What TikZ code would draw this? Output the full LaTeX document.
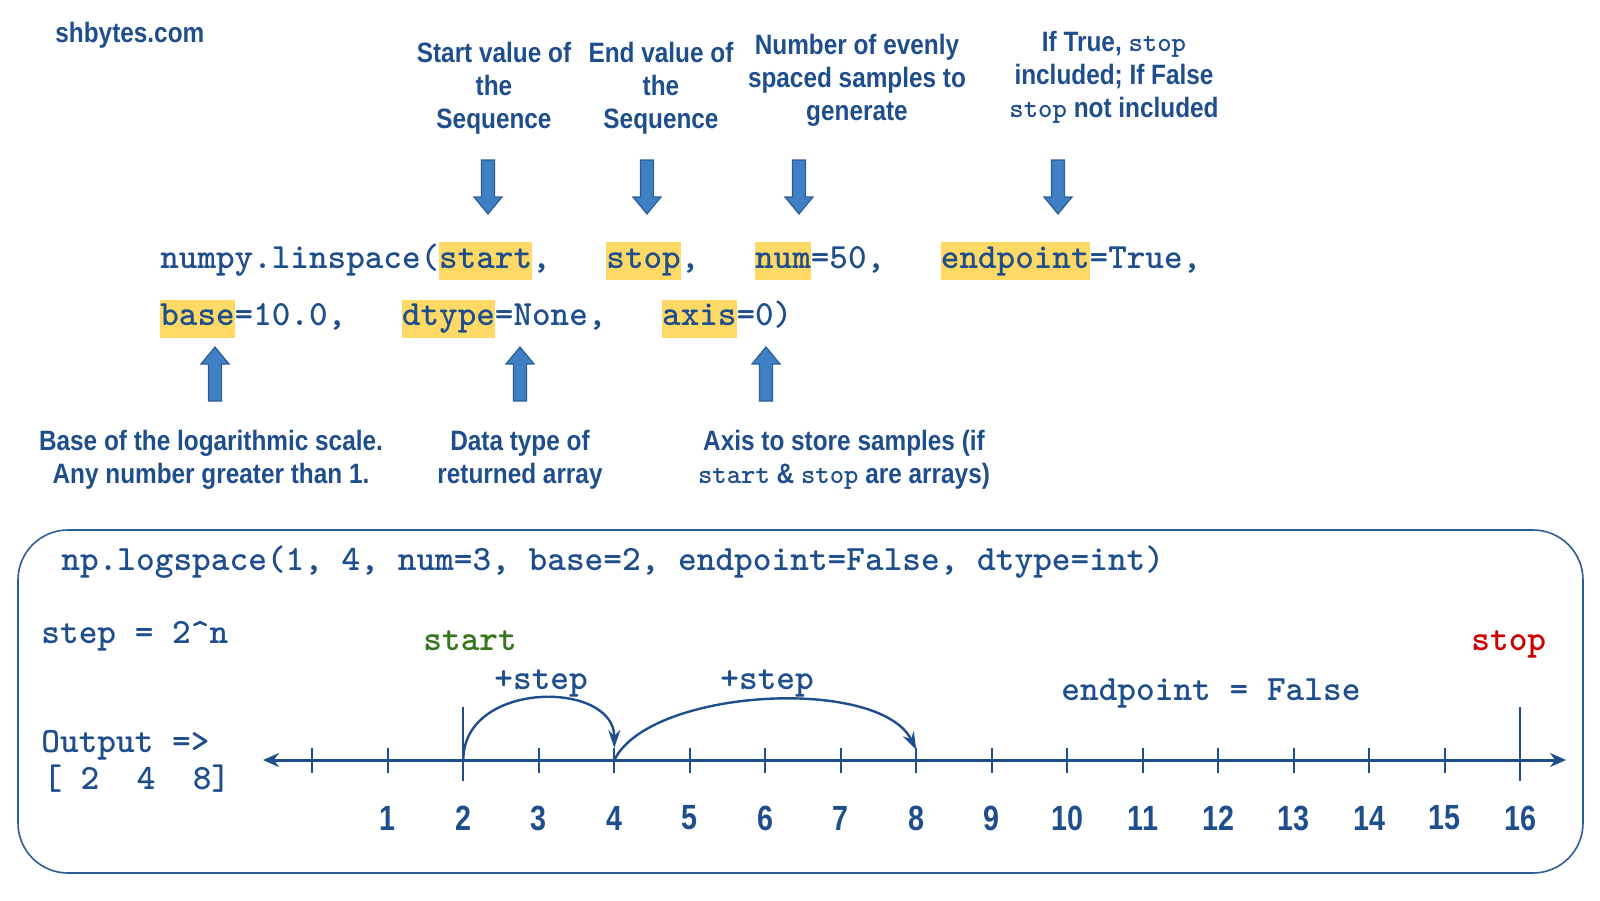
\documentclass[tikz,border=0pt]{standalone}
\usepackage{fontspec}
\setmainfont{Liberation Sans}[FakeStretch=0.87]
\newfontfamily\numfont{Liberation Sans}[FakeStretch=0.82]
\usetikzlibrary{arrows.meta}
\definecolor{txt}{HTML}{1F4E8C}
\definecolor{arrowfill}{HTML}{3F7FC3}
\definecolor{arrowdraw}{HTML}{2C5E96}
\definecolor{hl}{HTML}{FFD966}
\definecolor{startgreen}{HTML}{38761D}
\definecolor{stopred}{HTML}{CC0000}
\newcommand\monow[1]{{\ttfamily\bfseries\fontsize{13.7}{16.5}\selectfont #1}}
\def\cw{18.585}
\begin{document}
\begin{tikzpicture}[x=0.5pt,y=-0.5pt,
  every node/.style={text=txt},
  note/.style={font=\fontsize{14}{16.5}\selectfont\bfseries, align=center, inner sep=0pt},
  code/.style={font=\fontsize{17.7}{20}\selectfont\ttfamily\bfseries, inner sep=0pt, anchor=base west},
  excode/.style={code, font=\fontsize{17.8}{20}\selectfont\ttfamily\bfseries},
  hlword/.style={code, fill=hl, text height=13pt, text depth=6pt},
  blockarrow/.style={fill=arrowfill, draw=arrowdraw, line width=0.6pt},
  axisline/.style={line width=1.5pt, draw=txt},
  tickmark/.style={line width=1pt, draw=txt},
  numlabel/.style={font=\numfont\fontsize{17.5}{20}\selectfont\bfseries, inner sep=0pt},
  hop/.style={line width=1.2pt, draw=txt, -{Stealth[length=9pt,width=6pt]}},
  boxline/.style={draw=arrowdraw, line width=0.8pt, rounded corners=25pt},
  blockdown/.pic={\filldraw[blockarrow] (-6.5,0) -- (6.5,0) -- (6.5,37) -- (14,37) -- (0,54) -- (-14,37) -- (-6.5,37) -- cycle;},
  blockup/.pic={\filldraw[blockarrow] (-6.5,0) -- (6.5,0) -- (6.5,-37) -- (14,-37) -- (0,-54) -- (-14,-37) -- (-6.5,-37) -- cycle;},
]
\useasboundingbox (0,0) rectangle (1600,900);

% site name
\node[font=\fontsize{14}{16.5}\selectfont\bfseries, inner sep=0pt, anchor=west] (site) at (55,35) {shbytes.com};

% top notes
\node[note] (nstart) at (494,88) {Start value of\\the\\Sequence};
\node[note] (nstop) at (661,88) {End value of\\the\\Sequence};
\node[note] (nnum) at (857,80) {Number of evenly\\spaced samples to\\generate};
\node[note] (nend) at (1114,77) {If True, \monow{stop}\\included; If False\\\monow{stop} not included};

% down block arrows
\pic at (488,160) {blockdown};
\pic at (647,160) {blockdown};
\pic at (799,160) {blockdown};
\pic at (1058,160) {blockdown};

% code line 1
\node[code] (l1a) at (160,268) {numpy.linspace(};
\node[hlword] (hstart) at ({160+15*\cw},268) {start};
\node[code] (l1b) at ({160+20*\cw},268) {,};
\node[hlword] (hstop) at ({160+24*\cw},268) {stop};
\node[code] (l1c) at ({160+28*\cw},268) {,};
\node[hlword] (hnum) at ({160+32*\cw},268) {num};
\node[code] (l1d) at ({160+35*\cw},268) {=50,};
\node[hlword] (hend) at ({160+42*\cw},268) {endpoint};
\node[code] (l1e) at ({160+50*\cw},268) {=True,};

% code line 2
\node[hlword] (hbase) at (160,325.5) {base};
\node[code] (l2a) at ({160+4*\cw},325.5) {=10.0,};
\node[hlword] (hdtype) at ({160+13*\cw},325.5) {dtype};
\node[code] (l2b) at ({160+18*\cw},325.5) {=None,};
\node[hlword] (haxis) at ({160+27*\cw},325.5) {axis};
\node[code] (l2c) at ({160+31*\cw},325.5) {=0)};

% up block arrows
\pic at (215,401) {blockup};
\pic at (520,401) {blockup};
\pic at (766,401) {blockup};

% bottom notes
\node[note] (nbase) at (211,460) {Base of the logarithmic scale.\\Any number greater than 1.};
\node[note] (ndtype) at (520,460) {Data type of\\returned array};
\node[note] (naxis) at (844,460) {Axis to store samples (if\\\monow{start} \& \monow{stop} are arrays)};

% example box
\draw[boxline] (18,530) rectangle (1583,873);
\node[excode] (ex) at (61,570) {np.logspace(1, 4, num=3, base=2, endpoint=False, dtype=int)};
\node[excode] (stepdef) at (41,643) {step = 2\textasciicircum n};
\node[excode, text=startgreen] (lstart) at (423,650) {start};
\node[excode, text=stopred] (lstop) at (1471,650) {stop};
\node[excode] (s1) at (494,689) {+step};
\node[excode] (s2) at (720,689) {+step};
\node[excode] (ep) at (1061,700) {endpoint = False};
\node[excode] (out) at (41,752) {Output =>};
\node[excode] (res) at (43,789) {[\ 2\ \ 4\ \ 8]};

% number line
\coordinate (L) at (263,760);
\coordinate (R) at (1566,760);
\draw[axisline, {Stealth[length=8pt,width=7pt]}-{Stealth[length=8pt,width=7pt]}] (L) -- (R);
\foreach \n in {0,...,16} {\coordinate (t\n) at ({312.3+75.5*\n},760);}
\foreach \n in {0,1,3,4,5,6,7,8,9,10,11,12,13,14,15} {\draw[tickmark] ({312.3+75.5*\n},747.5) -- ({312.3+75.5*\n},772.5);}
\foreach \n in {2,16} {\draw[tickmark] ({312.3+75.5*\n},707) -- ({312.3+75.5*\n},781);}
\foreach \n in {1,...,16} {\node[numlabel] (n\n) at ({312.3+75.5*\n},818) {\n};}

% hops
\draw[hop] (t2) .. controls (463.3,680) and (614.3,680) .. (614.3,748);
\draw[hop] (t4) .. controls (650,688) and (880,676) .. (916.3,750);
\end{tikzpicture}
\end{document}
